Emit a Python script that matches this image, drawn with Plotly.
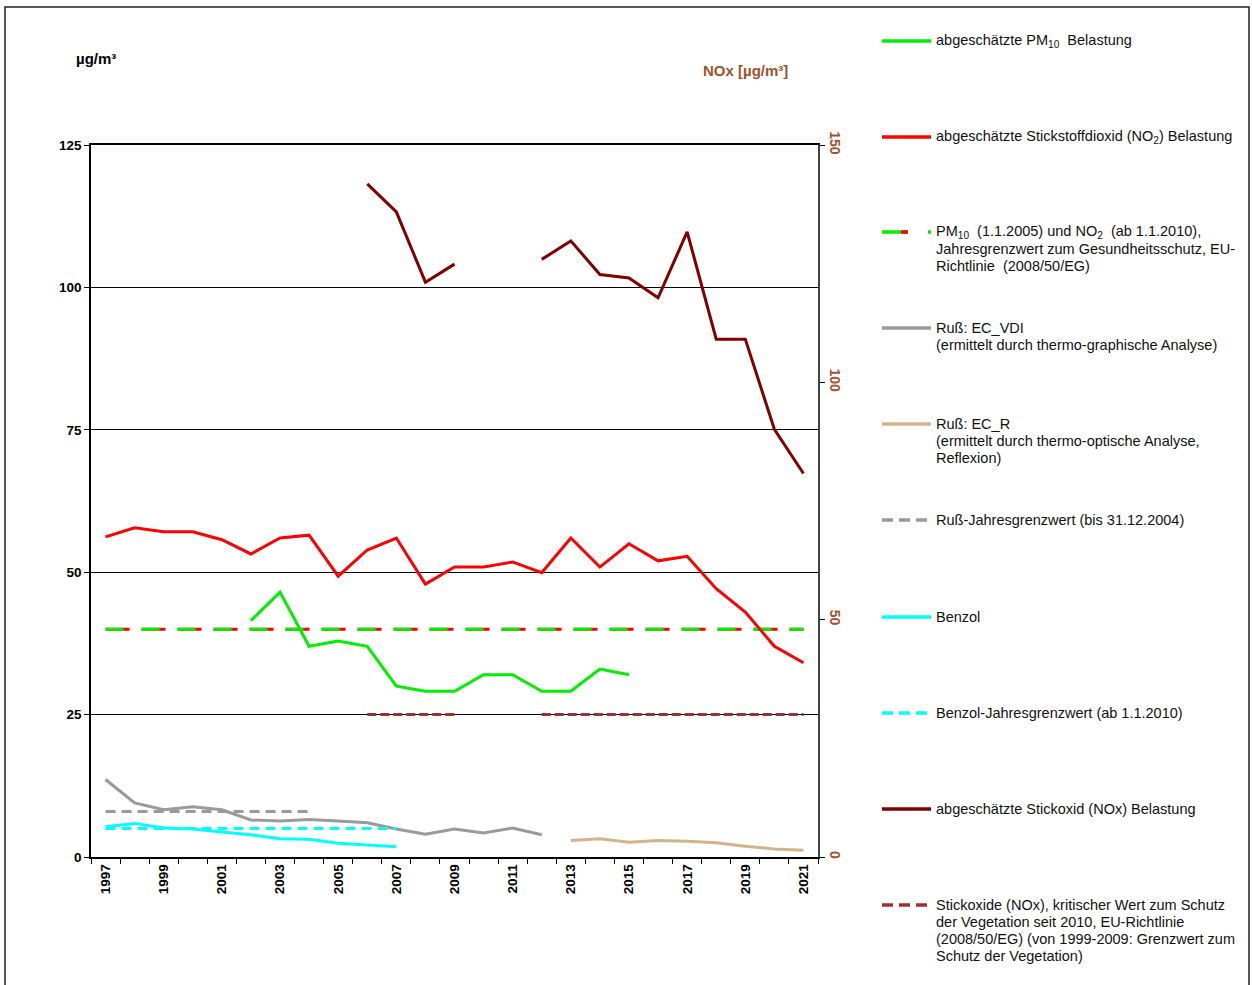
import plotly.graph_objects as go

years = [str(y) for y in range(1997, 2022)]
tick_labels = [y if int(y) % 2 == 1 else "" for y in years]

no2 = [56.2, 57.8, 57.1, 57.1, 55.7, 53.2, 56.0, 56.5, 49.3, 53.9, 56.0, 47.9, 50.9,
       50.9, 51.8, 49.9, 56.0, 50.9, 55.0, 52.0, 52.8, 47.1, 43.0, 37.0, 34.1]
pm10 = [None, None, None, None, None, 41.5, 46.5, 37.0, 37.9, 37.0, 30.0, 29.1, 29.1,
        32.0, 32.0, 29.1, 29.1, 33.0, 32.0, None, None, None, None, None, None]
limit_pm_no2 = [40] * 25
ec_vdi = [13.6, 9.5, 8.3, 8.8, 8.3, 6.5, 6.3, 6.6, 6.3, 6.0, 4.9, 4.0, 4.9, 4.2, 5.1, 3.9,
          None, None, None, None, None, None, None, None, None]
ec_r = [None] * 16 + [2.9, 3.2, 2.6, 2.9, 2.75, 2.5, 1.9, 1.4, 1.2]
russ_limit = [8] * 8 + [None] * 17
benzol = [5.3, 5.9, 5.1, 4.9, 4.4, 3.9, 3.2, 3.1, 2.4, 2.1, 1.8] + [None] * 14
benzol_limit = [5] * 11 + [None] * 14
# NOx (right axis): 1997-2005 none, 2006-2009 values, 2010-2011 gap, 2012-2021 values
nox = [None] * 9 + [141.8, 135.9, 121.1, 124.9] + [None, None] + \
      [125.9, 129.8, 122.7, 122.0, 117.8, 131.7, 109.1, 109.1, 90.1, 80.8]
nox_limit = [None] * 9 + [30, 30, 30, 30] + [None, None] + [30] * 10

GREEN = "#00EE00"
RED = "#FF0000"
GREY = "#9A9A9A"
TAN = "#D2B48C"
CYAN = "#00FFFF"
DARKRED = "#800000"
NOXDASH = "#993333"
BROWN = "#A0522D"
FONT = "Liberation Sans"

W, H = 1252, 985
L, R, T, B = 91, 818, 145, 857


def px(x):
    return (x - L) / (R - L)


def py(y):
    return (B - y) / (B - T)


fig = go.Figure()


def add(y, color, dash="solid", width=3, axis="y"):
    fig.add_trace(go.Scatter(x=years, y=y, mode="lines", yaxis=axis, showlegend=False,
                             line=dict(color=color, width=width, dash=dash),
                             hoverinfo="x+y"))


add(russ_limit, GREY, "10px,6px")
add(ec_vdi, GREY)
add(ec_r, TAN)
add(benzol, CYAN)
add(benzol_limit, CYAN, "10px,6px")
add(limit_pm_no2, RED, "24px,12px")
add(limit_pm_no2, GREEN, "18px,18px")
add(no2, RED)
add(pm10, GREEN)
add(nox, DARKRED, axis="y2")
add(nox_limit, NOXDASH, "9px,4px", axis="y2")

shapes = []
annotations = []

# outer border
shapes.append(dict(type="rect", xref="paper", yref="paper", x0=px(5), x1=px(1249),
                   y0=py(992), y1=py(7), line=dict(color="#222222", width=1.5),
                   fillcolor="rgba(0,0,0,0)", layer="below"))

legend_items = [
    (41, "solid", GREEN, ["abgeschätzte PM<sub>10</sub>  Belastung"]),
    (137, "solid", RED, ["abgeschätzte Stickstoffdioxid (NO<sub>2</sub>) Belastung"]),
    (232, "combo", None,
     ["PM<sub>10</sub>  (1.1.2005) und NO<sub>2</sub>  (ab 1.1.2010),",
      "Jahresgrenzwert zum Gesundheitsschutz, EU-", "Richtlinie  (2008/50/EG)"]),
    (328, "solid", GREY, ["Ruß: EC_VDI", "(ermittelt durch thermo-graphische Analyse)"]),
    (424, "solid", TAN, ["Ruß: EC_R", "(ermittelt durch thermo-optische Analyse,", "Reflexion)"]),
    (520, "dash", GREY, ["Ruß-Jahresgrenzwert (bis 31.12.2004)"]),
    (617, "solid", CYAN, ["Benzol"]),
    (713, "dash", CYAN, ["Benzol-Jahresgrenzwert (ab 1.1.2010)"]),
    (809, "solid", DARKRED, ["abgeschätzte Stickoxid (NOx) Belastung"]),
    (905, "dash", NOXDASH,
     ["Stickoxide (NOx), kritischer Wert zum Schutz", "der Vegetation seit 2010, EU-Richtlinie",
      "(2008/50/EG) (von 1999-2009: Grenzwert zum", "Schutz der Vegetation)"]),
]


def seg(a, b, y, col):
    shapes.append(dict(type="line", xref="paper", yref="paper", x0=px(a), x1=px(b),
                       y0=py(y), y1=py(y), line=dict(color=col, width=3.5)))


for yc, kind, col, lines in legend_items:
    if kind == "solid":
        seg(882, 931, yc, col)
    elif kind == "dash":
        for a, b in [(882, 893), (899, 910), (916, 927)]:
            seg(a, b, yc, col)
    else:
        seg(882, 908, yc, GREEN)
        seg(901, 908, yc, RED)
        seg(928, 931, yc, GREEN)
    for i, line in enumerate(lines):
        annotations.append(dict(xref="paper", yref="paper", x=px(934), y=py(yc + i * 17),
                                xanchor="left", yanchor="middle", align="left",
                                showarrow=False, text=line,
                                font=dict(family=FONT, size=14.5, color="#111111")))

annotations.append(dict(xref="paper", yref="paper", x=px(74), y=py(58), xanchor="left",
                        yanchor="middle", showarrow=False, text="<b>µg/m³</b>",
                        font=dict(family=FONT, size=15, color="black")))
annotations.append(dict(xref="paper", yref="paper", x=px(701), y=py(70), xanchor="left",
                        yanchor="middle", showarrow=False, text="<b>NOx [µg/m³]</b>",
                        font=dict(family=FONT, size=15, color=BROWN)))

fig.update_layout(
    width=W, height=H,
    margin=dict(l=L, r=W - R, t=T, b=H - B, pad=0),
    paper_bgcolor="white", plot_bgcolor="white",
    font=dict(family=FONT, size=12, color="black"),
    showlegend=False,
    shapes=shapes,
    annotations=annotations,
    xaxis=dict(type="category", categoryorder="array", categoryarray=years,
               range=[-0.5, 24.5], tickmode="array", tickvals=years, ticktext=tick_labels,
               tickson="boundaries", ticks="outside", ticklen=5, tickcolor="black",
               tickangle=-90, tickfont=dict(family=FONT, size=13.5, color="black", weight="bold"),
               showline=True, linecolor="black", linewidth=1.5, mirror=True,
               showgrid=False, zeroline=False),
    yaxis=dict(range=[0, 125], tickmode="array", tickvals=[0, 25, 50, 75, 100, 125],
               showgrid=True, gridcolor="black", gridwidth=1,
               showline=True, linecolor="black", linewidth=1.5,
               ticks="outside", ticklen=5, tickcolor="black",
               tickfont=dict(family=FONT, size=13.5, color="black", weight="bold"),
               zeroline=False),
    yaxis2=dict(range=[0, 150], tickmode="array", tickvals=[0, 50, 100, 150],
                overlaying="y", side="right", showgrid=False, zeroline=False,
                showline=True, linecolor="#444444", linewidth=1.5,
                ticks="outside", ticklen=5, tickcolor="black", tickangle=90,
                tickfont=dict(family=FONT, size=14, color=BROWN, weight="bold")),
)

fig.write_html("out.html", config={"displayModeBar": False},
               post_script="document.body.style.margin='0';")
